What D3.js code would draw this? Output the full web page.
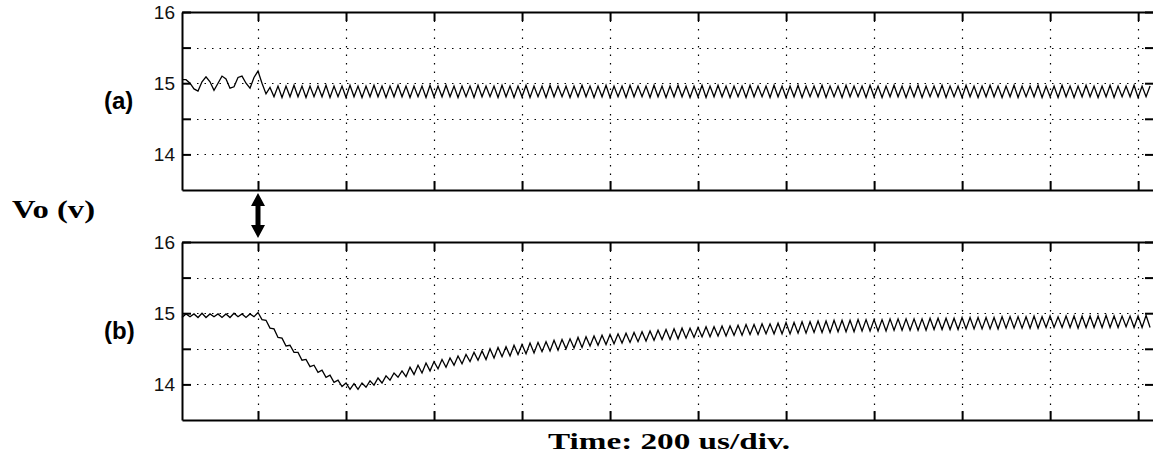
<!DOCTYPE html>
<html>
<head>
<meta charset="utf-8">
<script src="https://cdn.jsdelivr.net/npm/d3@7"></script>
<style>
  body { margin: 0; background: #fff; }
</style>
</head>
<body>
<div id="graph"></div>
<script>
// scope record: one sample every half ripple period
const startTime = -172.7;   // us at the left edge
const sampleStep = 9.09;    // us between samples
const stepTime = 0;         // us, load step (marked with the arrow)

const gridTimes = [0, 200, 400, 600, 800, 1000, 1200, 1400, 1600, 1800, 2000];
const voltTicks = [14, 14.5, 15, 15.5, 16];
const voltLabels = [14, 15, 16];

// (a) output voltage
const voA = [
  15.05, 15.05, 15.00, 14.92, 14.89, 15.02, 15.09, 15.02, 14.90, 15.00, 15.10, 15.06, 14.93, 14.95, 15.08, 15.10, 15.00, 14.93, 15.08, 15.17, 15.00, 14.85,
  14.94, 14.81, 14.96, 14.80, 14.96, 14.81, 14.97, 14.81, 14.96, 14.80, 14.96, 14.81, 14.96, 14.81, 14.97, 14.80, 14.96, 14.81, 14.96, 14.80, 14.97, 14.81,
  14.96, 14.80, 14.96, 14.81, 14.97, 14.81, 14.96, 14.80, 14.96, 14.81, 14.97, 14.81, 14.96, 14.80, 14.96, 14.81, 14.96, 14.80, 14.97, 14.81, 14.96, 14.81,
  14.97, 14.81, 14.96, 14.80, 14.96, 14.81, 14.96, 14.80, 14.97, 14.81, 14.96, 14.81, 14.96, 14.80, 14.97, 14.81, 14.96, 14.80, 14.96, 14.81, 14.97, 14.80,
  14.96, 14.81, 14.96, 14.80, 14.97, 14.81, 14.96, 14.81, 14.96, 14.80, 14.96, 14.81, 14.97, 14.81, 14.96, 14.80, 14.96, 14.81, 14.97, 14.80, 14.96, 14.81,
  14.96, 14.80, 14.97, 14.81, 14.96, 14.81, 14.96, 14.80, 14.97, 14.81, 14.96, 14.80, 14.96, 14.81, 14.97, 14.81, 14.96, 14.80, 14.96, 14.81, 14.97, 14.80,
  14.96, 14.81, 14.97, 14.81, 14.96, 14.80, 14.96, 14.81, 14.96, 14.80, 14.97, 14.81, 14.96, 14.81, 14.96, 14.80, 14.97, 14.81, 14.96, 14.80, 14.96, 14.81,
  14.97, 14.80, 14.96, 14.81, 14.96, 14.81, 14.97, 14.80, 14.96, 14.81, 14.96, 14.80, 14.97, 14.81, 14.96, 14.81, 14.96, 14.80, 14.97, 14.81, 14.96, 14.80,
  14.96, 14.81, 14.97, 14.81, 14.96, 14.80, 14.96, 14.81, 14.97, 14.80, 14.96, 14.81, 14.96, 14.81, 14.97, 14.80, 14.96, 14.81, 14.96, 14.80, 14.97, 14.81,
  14.96, 14.80, 14.96, 14.81, 14.97, 14.81, 14.96, 14.80, 14.96, 14.81, 14.97, 14.80, 14.96, 14.81, 14.96, 14.81, 14.97, 14.80, 14.96, 14.81, 14.96, 14.80,
  14.97, 14.81, 14.96, 14.80, 14.96, 14.81, 14.97, 14.81, 14.96, 14.80, 14.96, 14.81, 14.97, 14.80, 14.96, 14.81, 14.96, 14.81, 14.97, 14.80, 14.96, 14.81,
  14.96
];

// (b) output voltage
const voB = [
  14.94, 14.99, 14.95, 14.99, 14.94, 15.00, 14.94, 14.99, 14.95, 14.99, 14.94, 14.99, 14.94, 15.00, 14.95, 14.99, 14.94, 14.99, 14.95,
  15.01, 14.91, 14.90, 14.79, 14.78, 14.66, 14.65, 14.54, 14.55, 14.45, 14.45, 14.34, 14.35, 14.25, 14.27, 14.17, 14.20, 14.10, 14.13, 14.03, 14.06, 13.97,
  14.02, 13.93, 14.01, 13.93, 14.02, 13.96, 14.05, 13.99, 14.09, 14.02, 14.12, 14.06, 14.16, 14.10, 14.19, 14.11, 14.24, 14.14, 14.27, 14.16, 14.30, 14.19,
  14.32, 14.22, 14.35, 14.24, 14.37, 14.27, 14.40, 14.29, 14.42, 14.32, 14.45, 14.34, 14.47, 14.35, 14.50, 14.37, 14.52, 14.39, 14.53, 14.40, 14.55, 14.42,
  14.56, 14.43, 14.58, 14.44, 14.59, 14.46, 14.60, 14.47, 14.62, 14.48, 14.63, 14.50, 14.64, 14.51, 14.66, 14.52, 14.67, 14.54, 14.68, 14.55, 14.69, 14.56,
  14.70, 14.57, 14.71, 14.58, 14.72, 14.59, 14.73, 14.60, 14.74, 14.61, 14.75, 14.62, 14.76, 14.63, 14.77, 14.63, 14.78, 14.64, 14.79, 14.65, 14.79, 14.66,
  14.80, 14.67, 14.81, 14.67, 14.81, 14.68, 14.82, 14.68, 14.82, 14.69, 14.83, 14.69, 14.84, 14.70, 14.84, 14.70, 14.85, 14.71, 14.85, 14.71, 14.86, 14.71,
  14.87, 14.71, 14.87, 14.72, 14.88, 14.72, 14.88, 14.73, 14.89, 14.73, 14.89, 14.73, 14.90, 14.74, 14.90, 14.74, 14.90, 14.74, 14.91, 14.75, 14.91, 14.75,
  14.91, 14.75, 14.91, 14.75, 14.92, 14.76, 14.92, 14.76, 14.92, 14.76, 14.92, 14.76, 14.92, 14.76, 14.93, 14.77, 14.93, 14.77, 14.93, 14.77, 14.93, 14.77,
  14.94, 14.78, 14.94, 14.78, 14.94, 14.78, 14.94, 14.78, 14.94, 14.78, 14.95, 14.79, 14.95, 14.79, 14.95, 14.79, 14.95, 14.79, 14.96, 14.79, 14.95, 14.80,
  14.96, 14.80, 14.95, 14.80, 14.96, 14.80, 14.96, 14.79, 14.96, 14.80, 14.96, 14.80, 14.96, 14.80, 14.97, 14.80, 14.96, 14.80, 14.96, 14.81, 14.96, 14.80,
  14.96, 14.80, 14.97, 14.80
];

const panelNames = ["(a)", "(b)"];
const panelSeries = [voA, voB];

document.addEventListener("DOMContentLoaded", function() {

  const width = 1153;
  const height = 460;

  const svg = d3.select("div#graph")
    .append("svg")
    .attr("width", width)
    .attr("height", height)
    .style("display", "block");

  // time axis shared by both panels (right edge falls just outside the picture)
  const x = d3.scaleLinear()
    .domain([startTime, 2036])
    .range([182, 1154]);

  const panelTop = [12, 242];
  const panelHeight = 178;
  const tick = 9;

  panelSeries.forEach(function(values, p) {
    const top = panelTop[p];
    const bottom = top + panelHeight;

    const y = d3.scaleLinear()
      .domain([13.5, 16])
      .range([bottom, top]);

    const g = svg.append("g");

    // dotted grid
    g.selectAll(".hgrid")
      .data(voltTicks.filter(v => v < 16))
      .enter()
      .append("line")
      .attr("x1", x.range()[0])
      .attr("x2", x.range()[1])
      .attr("y1", d => Math.round(y(d)) + 0.5)
      .attr("y2", d => Math.round(y(d)) + 0.5)
      .attr("stroke", "#000")
      .attr("stroke-width", 1.2)
      .attr("stroke-dasharray", "1.5,6");

    g.selectAll(".vgrid")
      .data(gridTimes)
      .enter()
      .append("line")
      .attr("x1", d => Math.round(x(d)) + 0.5)
      .attr("x2", d => Math.round(x(d)) + 0.5)
      .attr("y1", top)
      .attr("y2", bottom)
      .attr("stroke", "#000")
      .attr("stroke-width", 1.2)
      .attr("stroke-dasharray", "1.5,7");

    // waveform
    const line = d3.line()
      .x((d, i) => x(startTime + i * sampleStep))
      .y(d => y(d));

    g.append("path")
      .datum(values)
      .attr("d", line)
      .attr("fill", "none")
      .attr("stroke", "#000")
      .attr("stroke-width", 1.3);

    // box with inward ticks
    const axes = [
      { ax: d3.axisBottom(x).tickValues(gridTimes), t: `translate(0,${bottom})` },
      { ax: d3.axisTop(x).tickValues(gridTimes), t: `translate(0,${top})` },
      { ax: d3.axisRight(y).tickValues(voltTicks), t: `translate(${x.range()[1]},0)` },
      { ax: d3.axisLeft(y).tickValues(voltTicks), t: `translate(${x.range()[0]},0)` }
    ];

    axes.forEach(function(a, k) {
      const isLeft = k === 3;
      a.ax.tickSizeInner(-tick)
        .tickSizeOuter(0)
        .tickPadding(7)
        .tickFormat(d => (isLeft && voltLabels.includes(d)) ? d : "");

      const ag = g.append("g")
        .attr("transform", a.t)
        .call(a.ax);

      ag.select(".domain").attr("stroke", "#000").attr("stroke-width", 2);
      ag.selectAll(".tick line").attr("stroke", "#000").attr("stroke-width", 2);
      ag.selectAll(".tick text")
        .attr("fill", "#111")
        .style("font-family", "'Liberation Sans', Arial, sans-serif")
        .style("font-size", "19px");
    });

    // panel tag
    svg.append("text")
      .attr("x", 104)
      .attr("y", y(15) + 26)
      .style("font-family", "'Liberation Sans', Arial, sans-serif")
      .style("font-weight", "bold")
      .style("font-size", "24px")
      .text(panelNames[p]);
  });

  // double arrow between the panels at the step
  const ax = x(stepTime);
  const a1 = panelTop[0] + panelHeight + 3;
  const a2 = panelTop[1] - 4;
  const hw = 7, hl = 13, sw = 2.5;
  svg.append("path")
    .attr("d", d3.line()([
      [ax, a1], [ax + hw, a1 + hl], [ax + sw, a1 + hl],
      [ax + sw, a2 - hl], [ax + hw, a2 - hl], [ax, a2],
      [ax - hw, a2 - hl], [ax - sw, a2 - hl], [ax - sw, a1 + hl],
      [ax - hw, a1 + hl], [ax, a1]
    ]))
    .attr("fill", "#000");

  // axis titles
  svg.append("text")
    .attr("x", 12)
    .attr("y", 218)
    .attr("textLength", 83)
    .attr("lengthAdjust", "spacingAndGlyphs")
    .style("font-family", "'Liberation Serif', 'Times New Roman', serif")
    .style("font-weight", "bold")
    .style("font-size", "25px")
    .text("Vo (v)");

  svg.append("text")
    .attr("x", 548)
    .attr("y", 449)
    .attr("textLength", 242)
    .attr("lengthAdjust", "spacingAndGlyphs")
    .style("font-family", "'Liberation Serif', 'Times New Roman', serif")
    .style("font-weight", "bold")
    .style("font-size", "24px")
    .text("Time: 200 us/div.");

});
</script>
</body>
</html>
